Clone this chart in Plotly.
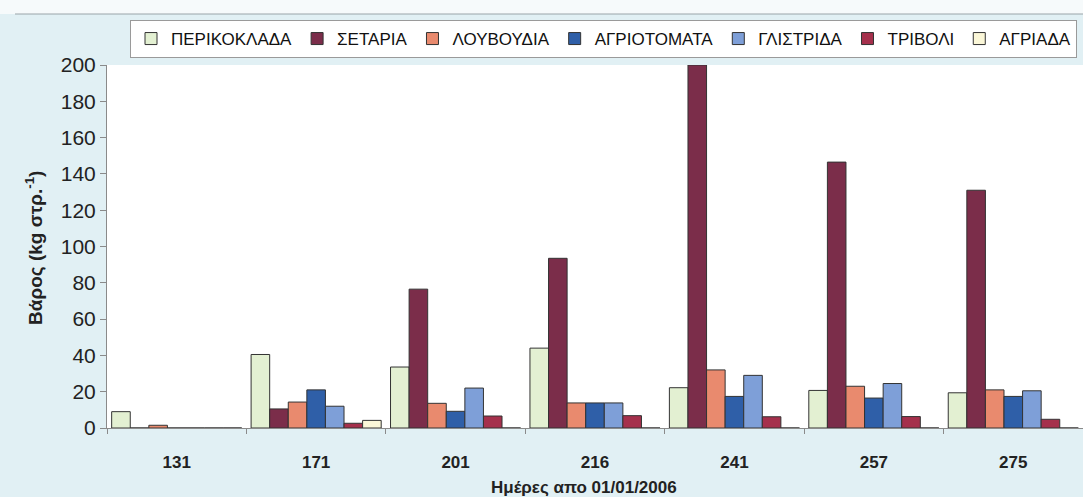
import plotly.graph_objects as go

days = ["131", "171", "201", "216", "241", "257", "275"]

series_names = ["ΠΕΡΙΚΟΚΛΑΔΑ", "ΣΕΤΑΡΙΑ", "ΛΟΥΒΟΥΔΙΑ", "ΑΓΡΙΟΤΟΜΑΤΑ", "ΓΛΙΣΤΡΙΔΑ", "ΤΡΙΒΟΛΙ", "ΑΓΡΙΑΔΑ"]

perikoklada = [9, 40.5, 33.6, 44, 22.2, 20.7, 19.4]
setaria = [0, 10.5, 76.5, 93.5, 200, 146.5, 131]
louvoudia = [1.5, 14.3, 13.6, 13.8, 32, 23, 21]
agriotomata = [0, 21, 9.2, 13.8, 17.4, 16.5, 17.4]
glistrida = [0, 12, 22, 13.8, 29, 24.5, 20.5]
trivoli = [0, 2.6, 6.6, 6.8, 6.2, 6.3, 4.8]
agriada = [0, 4.2, 0, 0, 0, 0, 0]

series_values = [perikoklada, setaria, louvoudia, agriotomata, glistrida, trivoli, agriada]
colors = ["#e3f0d2", "#7b2d4a", "#e98a6e", "#2f5fa8", "#7e9fd8", "#a5304c", "#fbf7d8"]

fig = go.Figure()
for name, vals, col in zip(series_names, series_values, colors):
    fig.add_trace(go.Bar(
        x=days, y=vals, name=name,
        marker=dict(color=col, line=dict(color="#333333", width=1)),
    ))

bg = "#e1f0f4"
W, H = 1083, 497
ml, mr, mt, mb = 107, 0, 65, 69
pw = W - ml - mr
ph = H - mt - mb

def px_to_paper_y(py):
    return (H - mb - py) / ph

def px_to_paper_x(px):
    return (px - ml) / pw

FONT = "Liberation Sans, Arial, sans-serif"

fig.update_layout(
    width=W, height=H,
    margin=dict(l=ml, r=mr, t=mt, b=mb),
    paper_bgcolor=bg,
    plot_bgcolor="white",
    barmode="group",
    bargap=0.067,
    bargroupgap=0,
    font=dict(family=FONT, color="#222222"),
    showlegend=True,
    legend=dict(
        orientation="h",
        x=px_to_paper_x(130), xanchor="left",
        y=px_to_paper_y(20), yanchor="top",
        bgcolor="white",
        bordercolor="#9a9a9a", borderwidth=1,
        font=dict(size=17, family=FONT, color="#111111"),
        itemwidth=30,
        tracegroupgap=0,
    ),
    xaxis=dict(
        type="category",
        showline=True, linecolor="#8a8a8a", linewidth=1,
        ticks="outside", ticklen=5, tickcolor="#8a8a8a",
        tickson="boundaries",
        showgrid=False,
        tickfont=dict(size=17, family=FONT, color="#222222", weight="bold"),
        ticklabelstandoff=19,
    ),
    yaxis=dict(
        range=[0, 200],
        tickvals=[0, 20, 40, 60, 80, 100, 120, 140, 160, 180, 200],
        showline=True, linecolor="#8a8a8a", linewidth=1,
        ticks="outside", ticklen=6, tickcolor="#8a8a8a",
        showgrid=False, zeroline=False,
        tickfont=dict(size=21, family=FONT, color="#222222"),
    ),
    shapes=[
        dict(type="rect", xref="paper", yref="paper",
             x0=px_to_paper_x(0), x1=1, y0=px_to_paper_y(14), y1=px_to_paper_y(0),
             fillcolor="#f6fafb", line=dict(width=0), layer="below"),
        dict(type="line", xref="paper", yref="paper",
             x0=px_to_paper_x(15), x1=1, y0=px_to_paper_y(14), y1=px_to_paper_y(14),
             line=dict(color="#9aa4a8", width=1)),
    ],
    annotations=[
        dict(text="<b>Ημέρες απο 01/01/2006</b>", xref="paper", yref="paper",
             x=px_to_paper_x(584), y=px_to_paper_y(487), xanchor="center", yanchor="middle",
             showarrow=False, font=dict(size=17, family=FONT, color="#222222")),
        dict(text="<b>Βάρος (kg στρ.<sup>-1</sup>)</b>", xref="paper", yref="paper",
             x=px_to_paper_x(34), y=px_to_paper_y(248), xanchor="center", yanchor="middle",
             textangle=-90, showarrow=False,
             font=dict(size=19, family=FONT, color="#222222")),
    ],
)

fig.write_html(
    "out.html",
    config={"displayModeBar": False},
    post_script="document.body.style.margin='0';document.body.style.overflow='hidden';",
)
